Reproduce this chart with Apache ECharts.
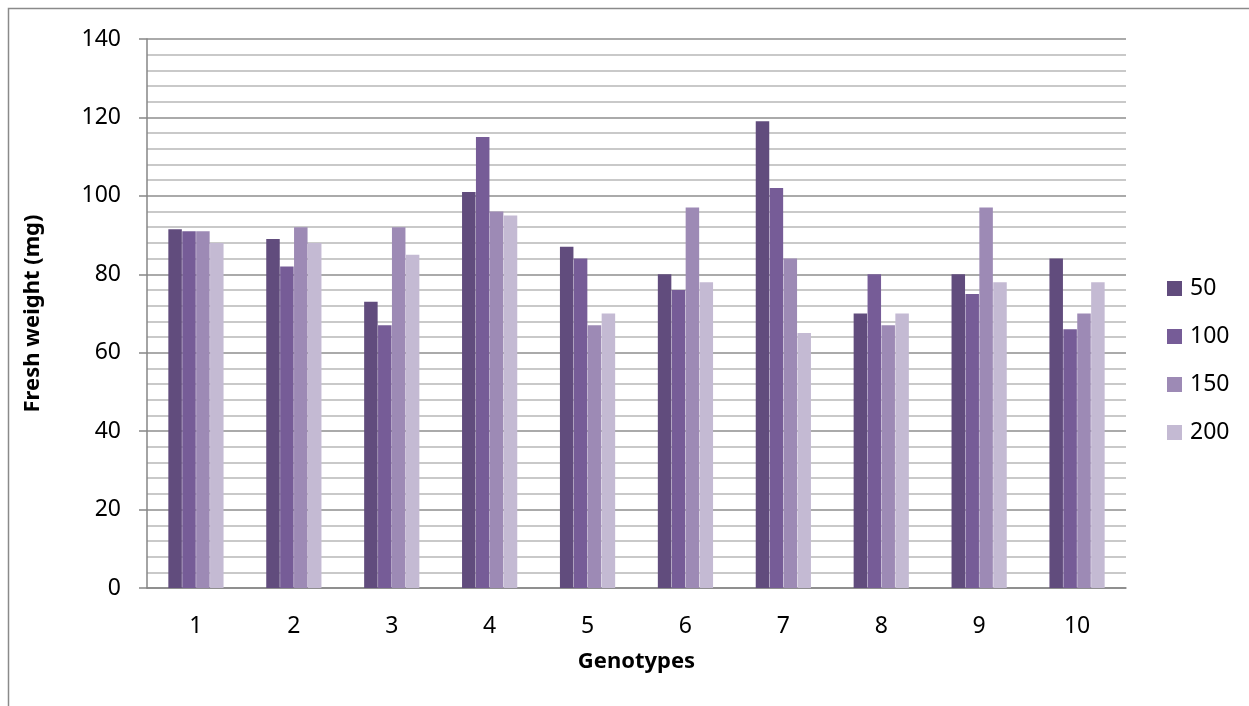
<!DOCTYPE html>
<html>
<head>
<meta charset="utf-8">
<script src="https://cdn.jsdelivr.net/npm/echarts@6/dist/echarts.min.js"></script>
<style>
  html, body { margin: 0; padding: 0; background: #fff; }
  #chart { width: 1249px; height: 706px; }
</style>
</head>
<body>
<div id="chart"></div>
<script>
// Genotypes on the x axis
const genotypes = ['1', '2', '3', '4', '5', '6', '7', '8', '9', '10'];
// Treatment levels shown in the legend
const treatments = ['50', '100', '150', '200'];
// Fresh weight (mg) per genotype, one array per treatment
const fw50  = [91.5, 89, 73, 101, 87, 80, 119, 70, 80, 84];
const fw100 = [91, 82, 67, 115, 84, 76, 102, 80, 75, 66];
const fw150 = [91, 92, 92, 96, 67, 97, 84, 67, 97, 70];
const fw200 = [88, 88, 85, 95, 70, 78, 65, 70, 78, 78];
const colors = ['#614C7D', '#765C97', '#9D8AB5', '#C4BAD3'];

const seriesData = [fw50, fw100, fw150, fw200];
const font = 'Noto Sans';

const chart = echarts.init(document.getElementById('chart'), null, { renderer: 'canvas' });
chart.setOption({
  animation: false,
  backgroundColor: '#fff',
  color: colors,
  graphic: [{
    type: 'rect',
    shape: { x: 8.5, y: 8.5, width: 1400, height: 900 },
    style: { fill: 'none', stroke: '#8a8a8a', lineWidth: 1.5 },
    silent: true,
    z: -1
  }],
  grid: { left: 147, right: 123, top: 39, bottom: 118, containLabel: false },
  legend: {
    orient: 'vertical',
    left: 1167,
    top: 277,
    padding: 0,
    itemWidth: 15,
    itemHeight: 15,
    itemGap: 25,
    icon: 'rect',
    data: treatments,
    textStyle: { fontFamily: font, fontSize: 23, color: '#000', lineHeight: 23, padding: [0, 0, 0, 3] }
  },
  xAxis: {
    type: 'category',
    data: genotypes,
    name: 'Genotypes',
    nameLocation: 'middle',
    nameGap: 63,
    nameTextStyle: { fontFamily: font, fontSize: 22, fontWeight: 'bold', color: '#000' },
    axisLine: { lineStyle: { color: '#868686', width: 1.5 } },
    axisTick: { show: false },
    axisLabel: { fontFamily: font, fontSize: 23, color: '#000', margin: 27 },
    splitLine: { show: false }
  },
  yAxis: {
    type: 'value',
    min: 0,
    max: 140,
    interval: 20,
    name: 'Fresh weight (mg)',
    nameLocation: 'middle',
    nameGap: 103,
    nameTextStyle: { fontFamily: font, fontSize: 22, fontWeight: 'bold', color: '#000' },
    axisLine: { show: true, lineStyle: { color: '#868686', width: 1.5 } },
    axisTick: { show: true, inside: false, length: 8, lineStyle: { color: '#868686', width: 1.5 } },
    axisLabel: { fontFamily: font, fontSize: 23, color: '#000', margin: 26 },
    splitLine: { show: true, lineStyle: { color: '#8E8E8E', width: 1.5 } },
    minorTick: { show: false, splitNumber: 5 },
    minorSplitLine: { show: true, lineStyle: { color: '#B8B8B8', width: 1.5 } }
  },
  series: treatments.map((t, i) => ({
    name: t,
    type: 'bar',
    data: seriesData[i],
    barWidth: 13.5,
    barGap: '3%',
    itemStyle: { color: colors[i] }
  }))
});
</script>
</body>
</html>
